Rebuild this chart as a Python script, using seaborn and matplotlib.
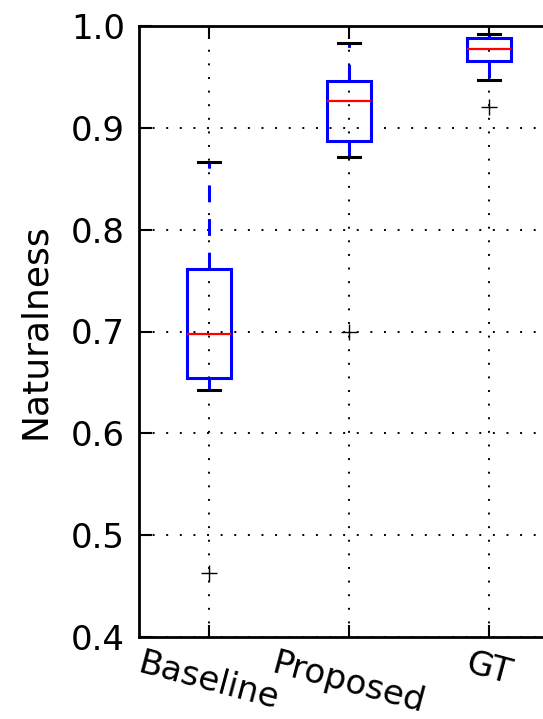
import pandas as pd
import matplotlib
matplotlib.use("Agg")
import matplotlib.pyplot as plt
import seaborn as sns

methods = ["Baseline", "Proposed", "GT"]
baseline = [0.463, 0.643, 0.654, 0.675, 0.698, 0.730, 0.761, 0.820, 0.866]
proposed = [0.700, 0.871, 0.887, 0.905, 0.926, 0.935, 0.946, 0.965, 0.983]
gt = [0.920, 0.947, 0.966, 0.972, 0.977, 0.983, 0.988, 0.990, 0.992]
yticks = [0.4, 0.5, 0.6, 0.7, 0.8, 0.9, 1.0]

table = pd.DataFrame({
    "method": [methods[0]] * len(baseline) + [methods[1]] * len(proposed) + [methods[2]] * len(gt),
    "score": baseline + proposed + gt,
})

plt.rcParams["font.family"] = ["DejaVu Sans"]

fig = plt.figure(figsize=(5.43, 7.19), dpi=100)
ax = fig.add_axes([139 / 543, 82 / 719, 420 / 543, 611 / 719])

sns.boxplot(data=table, x="method", y="score", order=methods, ax=ax,
            width=0.31, whis=1.5, color="white", linecolor="blue",
            boxprops=dict(facecolor="none", edgecolor="blue", linewidth=2.2),
            medianprops=dict(color="red", linewidth=1.6),
            whiskerprops=dict(color="blue", linewidth=2.2, linestyle=(0, (5.5, 5.5))),
            capprops=dict(color="black", linewidth=2.2),
            flierprops=dict(marker="+", markeredgecolor="black", markersize=12,
                            markeredgewidth=1))

ax.set_ylim(0.4, 1.0)
ax.set_yticks(yticks)
ax.set_yticklabels(["%.1f" % v for v in yticks])
ax.set_xlim(-0.5, 2.5)
ax.grid(True, color="black", linestyle=(0, (1, 6)), linewidth=1.4)
ax.set_xlabel("")
ax.set_ylabel("Naturalness", fontsize=26, labelpad=14)
ax.tick_params(direction="in", top=True, right=True, length=9, width=1.5,
               labelsize=24.5, pad=10)
ax.tick_params(axis="x", pad=7)
plt.setp(ax.get_xticklabels(), rotation=-15, ha="center")
for s in ax.spines.values():
    s.set_linewidth(2)

plt.savefig("out.png", dpi=100)
